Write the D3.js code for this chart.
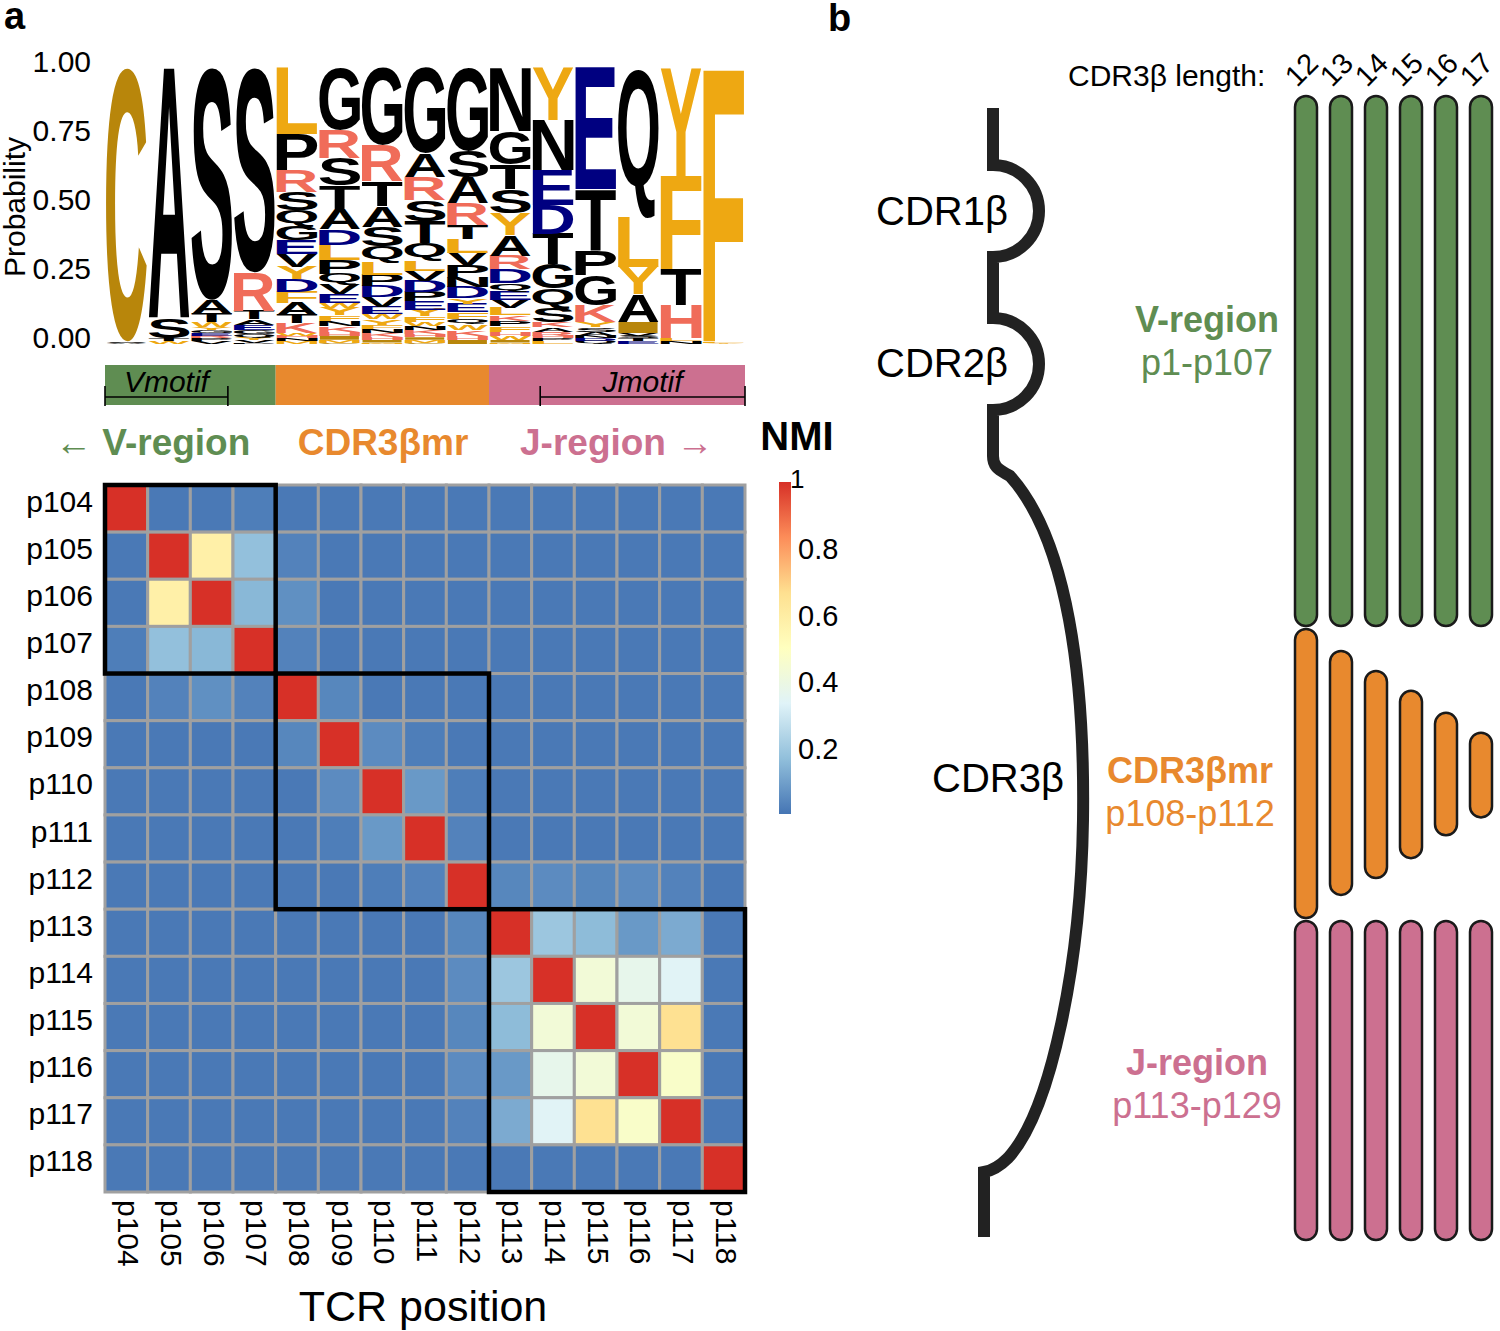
<!DOCTYPE html>
<html><head><meta charset="utf-8">
<script src="https://cdn.jsdelivr.net/npm/d3@7"></script>
<style>body{margin:0;background:#fff} svg{display:block} text{font-family:"Liberation Sans",Arial,Helvetica,sans-serif}</style>
</head><body><svg id="c" width="1500" height="1331"></svg>
<script>
// ---------------- DATA ----------------
const positions = ["p104","p105","p106","p107","p108","p109","p110","p111","p112","p113","p114","p115","p116","p117","p118"];

// sequence logo stacks, listed top -> bottom: [letter, probability]
const logoStacks = [
  [["C",0.99],["S",0.005],["A",0.005]],
  [["A",0.91],["S",0.07],["T",0.01],["W",0.01]],
  [["S",0.84],["A",0.05],["T",0.03],["W",0.02],["Y",0.01],["G",0.01],["E",0.01],["R",0.01],["P",0.01],["V",0.01]],
  [["S",0.74],["R",0.14],["T",0.03],["A",0.02],["E",0.02],["G",0.015],["Q",0.01],["Y",0.01],["V",0.01],["P",0.005]],
  [["L",0.24],["P",0.13],["R",0.08],["S",0.065],["Q",0.06],["G",0.05],["E",0.05],["V",0.045],["Y",0.045],["D",0.045],["F",0.04],["A",0.045],["T",0.03],["K",0.035],["W",0.01],["H",0.01],["N",0.01],["M",0.01]],
  [["G",0.225],["R",0.10],["S",0.10],["T",0.085],["A",0.075],["D",0.055],["L",0.055],["P",0.05],["Q",0.04],["V",0.035],["E",0.03],["W",0.02],["Y",0.025],["F",0.02],["N",0.02],["K",0.02],["H",0.015],["I",0.015],["M",0.01],["C",0.005]],
  [["G",0.28],["R",0.13],["T",0.09],["A",0.075],["S",0.07],["Q",0.06],["L",0.045],["P",0.04],["D",0.04],["V",0.035],["E",0.025],["W",0.02],["Y",0.02],["F",0.015],["N",0.015],["K",0.015],["H",0.01],["I",0.01],["M",0.005]],
  [["G",0.31],["A",0.085],["R",0.085],["S",0.075],["T",0.08],["Q",0.065],["L",0.035],["V",0.035],["D",0.04],["P",0.035],["E",0.03],["Y",0.025],["F",0.02],["W",0.015],["N",0.015],["K",0.015],["H",0.01],["I",0.01],["M",0.01],["C",0.005]],
  [["G",0.30],["S",0.095],["A",0.095],["R",0.08],["T",0.05],["L",0.05],["V",0.045],["P",0.045],["N",0.035],["D",0.04],["Y",0.02],["E",0.03],["F",0.025],["Q",0.02],["W",0.02],["K",0.02],["H",0.015],["I",0.015]],
  [["N",0.23],["G",0.12],["T",0.09],["S",0.085],["Y",0.08],["A",0.075],["R",0.05],["D",0.05],["Q",0.03],["E",0.03],["V",0.03],["L",0.025],["K",0.02],["P",0.02],["F",0.02],["H",0.015],["W",0.015],["I",0.01],["M",0.005]],
  [["Y",0.19],["N",0.18],["E",0.125],["D",0.105],["T",0.11],["G",0.09],["Q",0.07],["S",0.05],["K",0.02],["A",0.015],["R",0.015],["H",0.01],["P",0.01],["L",0.01]],
  [["E",0.44],["T",0.22],["P",0.09],["G",0.11],["K",0.06],["Y",0.02],["S",0.015],["A",0.015],["N",0.01],["D",0.01],["Q",0.01]],
  [["Q",0.54],["L",0.18],["Y",0.10],["A",0.10],["I",0.04],["V",0.01],["S",0.01],["T",0.01],["E",0.01]],
  [["Y",0.39],["F",0.34],["T",0.13],["H",0.12],["L",0.01],["N",0.01]],
  [["F",0.99],["L",0.005],["Y",0.005]]
];
const logoTicks = [0, 0.25, 0.5, 0.75, 1];

// NMI matrix (rows/cols = positions)
const nmi = [
  [1.00,0.01,0.01,0.02,0.01,0.01,0.01,0.01,0.01,0.01,0.01,0.01,0.01,0.01,0.01],
  [0.01,1.00,0.58,0.17,0.03,0.01,0.01,0.01,0.01,0.01,0.01,0.01,0.01,0.01,0.01],
  [0.01,0.58,1.00,0.15,0.06,0.01,0.01,0.01,0.01,0.01,0.01,0.01,0.01,0.01,0.01],
  [0.02,0.17,0.15,1.00,0.03,0.01,0.01,0.01,0.01,0.01,0.01,0.01,0.01,0.01,0.01],
  [0.01,0.03,0.06,0.03,1.00,0.04,0.01,0.01,0.01,0.01,0.01,0.01,0.01,0.01,0.01],
  [0.01,0.01,0.01,0.01,0.04,1.00,0.05,0.02,0.01,0.01,0.01,0.01,0.01,0.01,0.01],
  [0.01,0.01,0.01,0.01,0.01,0.05,1.00,0.08,0.02,0.01,0.01,0.01,0.01,0.01,0.01],
  [0.01,0.01,0.01,0.01,0.01,0.02,0.08,1.00,0.03,0.01,0.01,0.01,0.01,0.01,0.01],
  [0.01,0.01,0.01,0.01,0.01,0.01,0.02,0.03,1.00,0.04,0.05,0.04,0.05,0.03,0.01],
  [0.01,0.01,0.01,0.01,0.01,0.01,0.01,0.01,0.04,1.00,0.19,0.16,0.08,0.12,0.01],
  [0.01,0.01,0.01,0.01,0.01,0.01,0.01,0.01,0.05,0.19,1.00,0.43,0.37,0.34,0.01],
  [0.01,0.01,0.01,0.01,0.01,0.01,0.01,0.01,0.04,0.16,0.43,1.00,0.43,0.66,0.01],
  [0.01,0.01,0.01,0.01,0.01,0.01,0.01,0.01,0.05,0.08,0.37,0.43,1.00,0.47,0.01],
  [0.01,0.01,0.01,0.01,0.01,0.01,0.01,0.01,0.03,0.12,0.34,0.66,0.47,1.00,0.01],
  [0.01,0.01,0.01,0.01,0.01,0.01,0.01,0.01,0.01,0.01,0.01,0.01,0.01,0.01,1.00]
];
const legendTicks = [0.2, 0.4, 0.6, 0.8, 1];

// region blocks (index ranges into positions)
const regionNames = ["V-region", "CDR3βmr", "J-region"];
const regionStart = [0, 4, 9];
const regionEnd   = [4, 9, 15];
const motifNames = ["Vmotif", "Jmotif"];
const motifFrom  = [0, 10.2];
const motifTo    = [2.88, 15];

// panel b
const cdr3Lengths = [12, 13, 14, 15, 16, 17];
const mrFrom = [0, 0.076, 0.145, 0.214, 0.29, 0.359];
const mrTo   = [1, 0.92, 0.862, 0.793, 0.714, 0.652];
const regionRanges = ["p1-p107", "p108-p112", "p113-p129"];

// ---------------- STYLE ----------------
const GREEN = "#5f8d52", ORANGE = "#e8892e", PINK = "#cc7090";
const GOLD = "#eea812", DGOLD = "#b8860b", SALMON = "#f06c59", NAVY = "#000080";
const letterColor = ch => ({C:DGOLD, I:DGOLD, F:GOLD, L:GOLD, Y:GOLD, W:GOLD, M:GOLD,
  R:SALMON, K:SALMON, H:SALMON, D:NAVY, E:NAVY}[ch] || "#000");
const heatColor = d3.scaleLinear()
  .domain(d3.range(7).map(i => i / 6))
  .range(["#4575b4","#91bfdb","#e0f3f8","#ffffbf","#fee090","#fc8d59","#d73027"])
  .interpolate(d3.interpolateRgb);

const svg = d3.select("#c");

// panel letters
svg.append("text").attr("x", 4).attr("y", 29).attr("font-size", 38).attr("font-weight", "bold").text("a");
svg.append("text").attr("x", 828).attr("y", 31).attr("font-size", 38).attr("font-weight", "bold").text("b");

// ---------------- LOGO ----------------
const x = d3.scaleBand().domain(positions).range([105, 745]);
const yLogo = d3.scaleLinear().domain([0, 1]).range([344, 68]);
const gL = svg.append("g");

const axisL = gL.append("g").attr("transform", "translate(95,0)")
  .call(d3.axisLeft(yLogo).tickValues(logoTicks).tickFormat(d3.format(".2f")).tickSize(0).tickPadding(4));
axisL.select(".domain").remove();
axisL.selectAll("text").attr("font-size", 30).attr("font-family", "Liberation Sans, Arial").attr("fill", "#000").attr("dy", "0.3em")
  .attr("transform", "translate(0,-6)");
gL.append("text").attr("transform", "translate(25,207) rotate(-90)").attr("text-anchor", "middle")
  .attr("font-size", 30).text("Probability");

const cv = document.createElement("canvas").getContext("2d");
const FS = 200;
cv.font = `bold ${FS}px "Liberation Sans"`;
const mcache = {};
function met(ch) {
  if (!mcache[ch]) {
    const m = cv.measureText(ch);
    mcache[ch] = {l: m.actualBoundingBoxLeft, r: m.actualBoundingBoxRight, a: m.actualBoundingBoxAscent, d: m.actualBoundingBoxDescent};
  }
  return mcache[ch];
}
logoStacks.forEach((stack, i) => {
  let cum = 0;
  stack.slice().reverse().forEach(([ch, p]) => {
    const yb = yLogo(cum), yt = yLogo(cum + p);
    cum += p;
    const h = yb - yt;
    if (h < 0.4) return;
    const m = met(ch);
    const x0 = x(positions[i]) + 1, w = x.bandwidth() - 2;
    const sx = w / (m.l + m.r), sy = h / (m.a + m.d);
    gL.append("text").text(ch)
      .attr("font-family", "Liberation Sans").attr("font-weight", "bold").attr("font-size", FS)
      .attr("fill", letterColor(ch))
      .attr("transform", `translate(${x0},${yt}) scale(${sx},${sy}) translate(${m.l},${m.a})`);
  });
});

// region bar
const regColors = [GREEN, ORANGE, PINK];
const barTop = 365, barH = 40;
const xi = i => x.range()[0] + i * x.step();
regionStart.forEach((s, k) => {
  svg.append("rect").attr("x", xi(s)).attr("y", barTop).attr("width", xi(regionEnd[k]) - xi(s)).attr("height", barH)
    .attr("fill", regColors[k]);
});
motifNames.forEach((nm, k) => {
  const a = xi(motifFrom[k]), b = xi(motifTo[k]);
  const g = svg.append("g").attr("stroke", "#000").attr("stroke-width", 1.6);
  g.append("line").attr("x1", a).attr("x2", b).attr("y1", 397).attr("y2", 397);
  g.append("line").attr("x1", a).attr("x2", a).attr("y1", 386).attr("y2", 406);
  g.append("line").attr("x1", b).attr("x2", b).attr("y1", 386).attr("y2", 406);
  svg.append("text").attr("x", (a + b) / 2).attr("y", 392).attr("text-anchor", "middle")
    .attr("font-size", 30).attr("font-style", "italic").text(nm);
});
// region titles above heatmap
svg.append("text").attr("x", 55).attr("y", 455).attr("font-size", 37).attr("font-weight", "bold").attr("fill", GREEN).text("← V-region");
svg.append("text").attr("x", 383).attr("y", 455).attr("text-anchor", "middle").attr("font-size", 37).attr("font-weight", "bold").attr("fill", ORANGE).text("CDR3βmr");
svg.append("text").attr("x", 520).attr("y", 455).attr("font-size", 37).attr("font-weight", "bold").attr("fill", PINK).text("J-region →");

// ---------------- HEATMAP ----------------
const yH = d3.scaleBand().domain(positions).range([485, 1192]);
const gH = svg.append("g");
nmi.forEach((row, r) => row.forEach((v, c) => {
  gH.append("rect").attr("x", x(positions[c])).attr("y", yH(positions[r]))
    .attr("width", x.bandwidth()).attr("height", yH.bandwidth())
    .attr("fill", heatColor(v)).attr("stroke", "#a0a0a0").attr("stroke-width", 3);
}));
regionStart.forEach((s, k) => {
  const e = regionEnd[k];
  gH.append("rect").attr("x", x(positions[s])).attr("y", yH(positions[s]))
    .attr("width", x(positions[e - 1]) + x.bandwidth() - x(positions[s]))
    .attr("height", yH(positions[e - 1]) + yH.bandwidth() - yH(positions[s]))
    .attr("fill", "none").attr("stroke", "#000").attr("stroke-width", 4.5);
});
positions.forEach(p => {
  svg.append("text").attr("x", 93).attr("y", yH(p) + yH.bandwidth() / 2 + 3).attr("text-anchor", "end")
    .attr("font-size", 30).text(p);
  svg.append("text").attr("transform", `translate(${x(p) + x.bandwidth() / 2},1200) rotate(90)`)
    .attr("dominant-baseline", "middle").attr("font-size", 30).text(p);
});
svg.append("text").attr("x", 423).attr("y", 1321).attr("text-anchor", "middle").attr("font-size", 43).text("TCR position");

// legend
const yLeg = d3.scaleLinear().domain([0, 1]).range([814, 482]);
const defs = svg.append("defs");
const grad = defs.append("linearGradient").attr("id", "lg").attr("x1", 0).attr("x2", 0).attr("y1", 1).attr("y2", 0);
heatColor.domain().forEach(t => grad.append("stop").attr("offset", t).attr("stop-color", heatColor(t)));
svg.append("rect").attr("x", 779).attr("y", yLeg(1)).attr("width", 12).attr("height", yLeg(0) - yLeg(1)).attr("fill", "url(#lg)");
legendTicks.forEach(t => {
  const top = t === 1;
  svg.append("text").attr("x", top ? 790 : 798).attr("y", yLeg(t) + (top ? 6 : 11)).attr("font-size", top ? 26 : 29)
    .text(top ? "1" : d3.format(".1f")(t));
});
svg.append("text").attr("x", 797).attr("y", 450).attr("text-anchor", "middle").attr("font-size", 40).attr("font-weight", "bold").text("NMI");

// ---------------- PANEL B ----------------
const gB = svg.append("g");
const bp = d3.path();
bp.moveTo(993, 108); bp.lineTo(993, 165);
bp.arc(993, 211, 46, -Math.PI / 2, Math.PI / 2, false);
bp.lineTo(993, 318);
bp.arc(993, 364, 46, -Math.PI / 2, Math.PI / 2, false);
bp.lineTo(993, 456);
bp.bezierCurveTo(993, 468, 1000, 470, 1010, 476);
bp.bezierCurveTo(1068, 540, 1085, 680, 1083, 820);
bp.bezierCurveTo(1081, 960, 1052, 1110, 1008, 1158);
bp.quadraticCurveTo(996, 1170, 984, 1172);
bp.lineTo(984, 1237);
gB.append("path").attr("d", bp.toString()).attr("fill", "none").attr("stroke", "#222").attr("stroke-width", 12);
gB.append("text").attr("x", 942).attr("y", 225).attr("text-anchor", "middle").attr("font-size", 40).text("CDR1β");
gB.append("text").attr("x", 942).attr("y", 377).attr("text-anchor", "middle").attr("font-size", 40).text("CDR2β");
gB.append("text").attr("x", 998).attr("y", 792).attr("text-anchor", "middle").attr("font-size", 40).text("CDR3β");

gB.append("text").attr("x", 1068).attr("y", 86).attr("font-size", 30).text("CDR3β length:");
const xb = d3.scalePoint().domain(cdr3Lengths).range([1306, 1481]);
const yMR = d3.scaleLinear().domain([0, 1]).range([629, 918]);
const pw = 22;
function pill(cx, y0, y1, fill) {
  gB.append("rect").attr("x", cx - pw / 2).attr("y", y0).attr("width", pw).attr("height", y1 - y0)
    .attr("rx", pw / 2).attr("ry", pw / 2).attr("fill", fill).attr("stroke", "#1a1a1a").attr("stroke-width", 2.5);
}
cdr3Lengths.forEach((L, i) => {
  const cx = xb(L);
  pill(cx, 96, 626, GREEN);
  pill(cx, yMR(mrFrom[i]), yMR(mrTo[i]), ORANGE);
  pill(cx, 921, 1240, PINK);
  gB.append("text").attr("transform", `translate(${cx - 9},88) rotate(-45)`).attr("font-size", 29).text(L);
});
const labY = [[320, 363], [771, 814], [1063, 1106]];
const labX = [1207, 1190, 1197];
regionNames.forEach((nm, k) => {
  gB.append("text").attr("x", labX[k]).attr("y", labY[k][0] + 12).attr("text-anchor", "middle")
    .attr("font-size", 36).attr("font-weight", "bold").attr("fill", regColors[k]).text(nm);
  gB.append("text").attr("x", labX[k]).attr("y", labY[k][1] + 12).attr("text-anchor", "middle")
    .attr("font-size", 36).attr("fill", regColors[k]).text(regionRanges[k]);
});
</script></body></html>
